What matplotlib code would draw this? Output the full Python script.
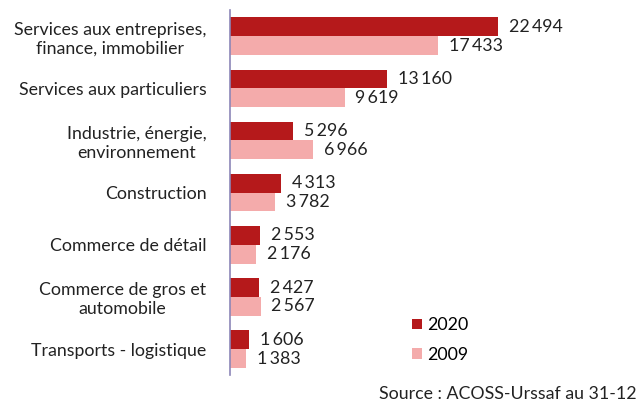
import numpy as np
import matplotlib.pyplot as plt

plt.rcParams['font.family'] = ['Lato', 'DejaVu Sans']

categories = ['Services aux entreprises,\nfinance, immobilier',
              'Services aux particuliers',
              'Industrie, énergie,\nenvironnement',
              'Construction',
              'Commerce de détail',
              'Commerce de gros et\nautomobile',
              'Transports - logistique']
values_2020 = [22494, 13160, 5296, 4313, 2553, 2427, 1606]
values_2009 = [17433, 9619, 6966, 3782, 2176, 2567, 1383]

c2020 = '#b5191b'
c2009 = '#f4abab'
txt = '#222222'
fs = 12.8

fig = plt.figure(figsize=(6.44, 4.03), dpi=100)
ax = fig.add_axes([0.357, 0.069, 0.58, 0.906])

y = np.arange(len(categories))
h = 0.36
ax.barh(y - h / 2, values_2020, height=h, color=c2020, label='2020')
ax.barh(y + h / 2, values_2009, height=h, color=c2009, label='2009')


def fmt(v):
    return f'{v:,}'.replace(',', '\u2009')


for i in range(len(categories)):
    ax.text(values_2020[i] + 900, y[i] - h / 2, fmt(values_2020[i]), va='center', ha='left',
            fontsize=fs, color=txt)
    ax.text(values_2009[i] + 900, y[i] + h / 2, fmt(values_2009[i]), va='center', ha='left',
            fontsize=fs, color=txt)

ax.set_yticks(y)
ax.set_yticklabels(categories, fontsize=fs, color=txt, multialignment='center')
ax.tick_params(axis='y', length=0, pad=17)
ax.set_xticks([])
ax.set_ylim(len(categories) - 0.5, -0.5)
ax.set_xlim(0, 31300)
for s in ['top', 'right', 'bottom']:
    ax.spines[s].set_visible(False)
ax.spines['left'].set_color('#8c86b8')
ax.spines['left'].set_linewidth(1.2)

leg = ax.legend(loc='lower left', bbox_to_anchor=(0.465, 0.01), frameon=False, fontsize=fs,
                handlelength=0.55, handleheight=0.55, handletextpad=0.3, labelspacing=0.75,
                borderpad=0)

fig.text(0.988, 0.003, 'Source : ACOSS-Urssaf au 31-12', ha='right', va='bottom',
         fontsize=fs, color=txt)

fig.savefig('out.png', dpi=100)
